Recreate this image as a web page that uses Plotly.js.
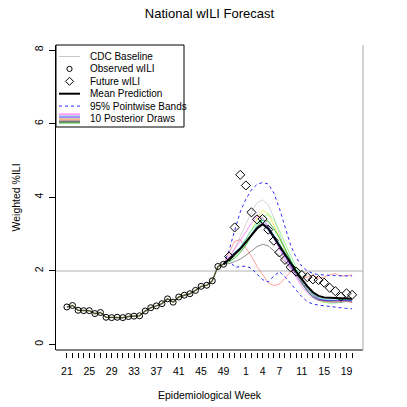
<!DOCTYPE html>
<html>
<head>
<meta charset="utf-8">
<script src="https://cdn.plot.ly/plotly-3.0.1.min.js"></script>
<style>
  html, body { margin: 0; padding: 0; background: #fff; }
  #chart { width: 407px; height: 407px; }
</style>
</head>
<body>
<div id="chart"></div>
<script>
// Epidemiological weeks shown on the x axis (season wraps at week 52).
const weekLabels = [
  21, 22, 23, 24, 25, 26, 27, 28, 29, 30, 31, 32, 33, 34, 35, 36,
  37, 38, 39, 40, 41, 42, 43, 44, 45, 46, 47, 48, 49, 50, 51, 52,
  1, 2, 3, 4, 5, 6, 7, 8, 9, 10, 11, 12, 13, 14, 15, 16, 17, 18, 19, 20,
];
const labelledWeeks = [21, 25, 29, 33, 37, 41, 45, 49, 1, 4, 7, 11, 15, 19];

const cdcBaseline = 2.0;

// Observed wILI, weeks 21..49
const observedWILI = [
  1.02, 1.06, 0.93, 0.92, 0.92, 0.84, 0.87, 0.74, 0.73, 0.74, 0.73, 0.76,
  0.77, 0.78, 0.91, 1.0, 1.05, 1.11, 1.24, 1.15, 1.29, 1.34, 1.38, 1.47,
  1.58, 1.61, 1.73, 2.12, 2.18,
];
// Future wILI, weeks 50..20
const futureWILI = [
  2.39, 3.18, 4.61, 4.32, 3.59, 3.40, 3.41, 3.12, 2.82, 2.50, 2.30, 2.10,
  1.98, 1.89, 1.83, 1.77, 1.75, 1.68, 1.54, 1.45, 1.30, 1.39, 1.35,
];

// Forecast series start at the last observed week.
const meanPrediction = [
  2.18, 2.32, 2.45, 2.60, 2.78, 2.97, 3.15, 3.27, 3.15, 2.92, 2.68, 2.45,
  2.20, 1.98, 1.78, 1.58, 1.42, 1.32, 1.28, 1.27, 1.27, 1.27, 1.26, 1.24,
];
const upperBand = [
  2.18, 2.55, 3.10, 3.60, 3.95, 4.20, 4.35, 4.40, 4.36, 4.12, 3.70, 3.18,
  2.70, 2.36, 2.13, 2.00, 1.93, 1.90, 1.88, 1.88, 1.87, 1.87, 1.86, 1.86,
];
const lowerBand = [
  2.18, 2.30, 2.10, 2.12, 2.13, 2.07, 1.90, 1.76, 1.70, 1.86, 1.98, 1.84,
  1.66, 1.48, 1.30, 1.16, 1.10, 1.07, 1.05, 1.03, 1.00, 0.99, 0.98, 0.97,
];

const drawRed = [2.18, 2.5, 2.8, 2.85, 2.62, 2.4, 2.12, 1.9, 1.68, 1.6, 1.64, 1.8, 1.98, 1.95, 1.83, 1.83, 1.89, 1.8, 1.83, 1.89, 1.93, 1.86, 1.87, 1.89];
const drawDarkGray = [2.18, 2.2, 2.25, 2.32, 2.42, 2.53, 2.66, 2.72, 2.68, 2.55, 2.4, 2.27, 2.12, 1.95, 1.75, 1.55, 1.38, 1.25, 1.18, 1.16, 1.15, 1.15, 1.17, 1.15];
const drawLightGray = [2.18, 2.3, 2.6, 2.95, 3.3, 3.6, 3.85, 3.93, 3.8, 3.45, 3.0, 2.6, 2.25, 1.95, 1.7, 1.5, 1.35, 1.25, 1.2, 1.2, 1.2, 1.2, 1.2, 1.2];
const drawYellow = [2.18, 2.3, 2.45, 2.62, 2.85, 3.1, 3.4, 3.65, 3.55, 3.25, 2.9, 2.55, 2.2, 1.9, 1.65, 1.45, 1.3, 1.2, 1.15, 1.15, 1.17, 1.18, 1.16, 1.15];
const drawLightGreen = [2.18, 2.28, 2.4, 2.55, 2.75, 3.0, 3.25, 3.45, 3.55, 3.4, 3.1, 2.75, 2.4, 2.1, 1.8, 1.55, 1.35, 1.22, 1.15, 1.12, 1.12, 1.15, 1.18, 1.2];
const drawGreen = [2.18, 2.25, 2.35, 2.5, 2.7, 2.95, 3.2, 3.38, 3.35, 3.15, 2.9, 2.6, 2.3, 2.0, 1.7, 1.45, 1.28, 1.2, 1.18, 1.18, 1.2, 1.22, 1.2, 1.2];
const drawCyan = [2.18, 2.32, 2.48, 2.65, 2.88, 3.1, 3.3, 3.38, 3.22, 2.98, 2.72, 2.48, 2.25, 2.02, 1.78, 1.55, 1.38, 1.28, 1.22, 1.2, 1.2, 1.2, 1.22, 1.2];
const drawBlue = [2.18, 2.35, 2.5, 2.62, 2.8, 3.0, 3.18, 3.25, 3.1, 2.88, 2.62, 2.38, 2.12, 1.88, 1.65, 1.45, 1.3, 1.22, 1.2, 1.2, 1.22, 1.22, 1.2, 1.18];
const drawMagenta = [2.18, 2.38, 2.6, 2.82, 3.05, 3.3, 3.48, 3.45, 3.2, 2.9, 2.6, 2.3, 2.05, 1.8, 1.58, 1.4, 1.27, 1.2, 1.17, 1.15, 1.15, 1.17, 1.18, 1.15];
const drawPurple = [2.18, 2.3, 2.42, 2.58, 2.78, 3.0, 3.2, 3.3, 3.2, 2.95, 2.68, 2.42, 2.15, 1.92, 1.7, 1.5, 1.33, 1.24, 1.2, 1.18, 1.18, 1.2, 1.2, 1.18];

const posteriorDraws = [
  drawRed, drawDarkGray, drawLightGray, drawYellow, drawLightGreen,
  drawGreen, drawCyan, drawBlue, drawMagenta, drawPurple,
];
const drawColors = [
  "rgba(255,40,40,0.45)", "rgba(70,70,70,0.6)", "rgba(150,150,150,0.4)",
  "rgba(225,225,0,0.6)", "rgba(60,255,60,0.5)", "rgba(0,170,0,0.75)",
  "rgba(0,215,215,0.6)", "rgba(40,40,255,0.55)", "rgba(255,40,255,0.5)",
  "rgba(130,20,240,0.5)",
];

const legendLabels = [
  "CDC Baseline", "Observed wILI", "Future wILI",
  "Mean Prediction", "95% Pointwise Bands", "10 Posterior Draws",
];

// Geometry of the plotting region in page pixels.
const W = 407, H = 407;
const M = { l: 56, r: 44, t: 45, b: 55 };
const plotW = W - M.l - M.r;
const plotH = H - M.t - M.b;
const px = (x) => (x - M.l) / plotW;
const py = (y) => (H - M.b - y) / plotH;

const FONT = "Liberation Sans, Arial, Helvetica, sans-serif";

const weekIndex = weekLabels.map((_, i) => i);
const forecastStart = observedWILI.length - 1;
const forecastX = weekIndex.slice(forecastStart, forecastStart + meanPrediction.length);
const futureX = weekIndex.slice(observedWILI.length, observedWILI.length + futureWILI.length);
const observedX = weekIndex.slice(0, observedWILI.length);

const traces = [];

posteriorDraws.forEach((draw, i) => {
  traces.push({
    x: forecastX, y: draw, mode: "lines", type: "scatter",
    line: { color: drawColors[i], width: 1 }, hoverinfo: "skip",
  });
});

for (const band of [upperBand, lowerBand]) {
  traces.push({
    x: forecastX, y: band, mode: "lines", type: "scatter",
    line: { color: "#2b2bff", width: 1, dash: "3px,3px" },
  });
}

traces.push({
  x: forecastX, y: meanPrediction, mode: "lines", type: "scatter",
  line: { color: "#000", width: 2 },
});

// History: all draws overlap here, giving an olive line.
traces.push({
  x: observedX, y: observedWILI, mode: "lines+markers", type: "scatter",
  line: { color: "#4f5628", width: 1.5 },
  marker: { symbol: "circle-open", size: 6, color: "#000", line: { width: 1 } },
});

traces.push({
  x: futureX, y: futureWILI, mode: "markers", type: "scatter",
  marker: { symbol: "diamond-open", size: 7, color: "#000", line: { width: 1 } },
});

// Hand-drawn legend, R style.
const legBox = { x0: 56, x1: 184, y0: 45, y1: 127 };
const rowY = legendLabels.map((_, i) => 56.5 + 12.4 * i);
const symX0 = 59, symX1 = 80, symXc = 69.5;

const shapes = [
  // CDC baseline across the whole plot
  {
    type: "line", xref: "paper", yref: "y", x0: 0, x1: 1,
    y0: cdcBaseline, y1: cdcBaseline,
    line: { color: "#d8d8d8", width: 2 }, layer: "below",
  },
  // bottom and right of the frame
  {
    type: "line", xref: "paper", yref: "paper", x0: 0, x1: 1,
    y0: py(350), y1: py(350), line: { color: "#000", width: 1 },
  },
  {
    type: "line", xref: "paper", yref: "paper", x0: px(363), x1: px(363),
    y0: py(350), y1: 1, line: { color: "#a6a6a6", width: 1 },
  },
  // legend box
  {
    type: "rect", xref: "paper", yref: "paper",
    x0: px(legBox.x0), x1: px(legBox.x1), y0: py(legBox.y1), y1: py(legBox.y0),
    line: { color: "#000", width: 1 }, fillcolor: "#fff",
  },
  {
    type: "line", xref: "paper", yref: "paper", x0: px(symX0), x1: px(symX1),
    y0: py(rowY[0]), y1: py(rowY[0]), line: { color: "#c8c8c8", width: 1 },
  },
  {
    type: "circle", xref: "paper", yref: "paper",
    x0: px(symXc - 2.6), x1: px(symXc + 2.6),
    y0: py(rowY[1] + 2.6), y1: py(rowY[1] - 2.6),
    line: { color: "#000", width: 1 },
  },
  {
    type: "path", xref: "paper", yref: "paper",
    path: `M ${px(symXc)} ${py(rowY[2] - 4)} L ${px(symXc + 4)} ${py(rowY[2])} L ${px(symXc)} ${py(rowY[2] + 4)} L ${px(symXc - 4)} ${py(rowY[2])} Z`,
    line: { color: "#000", width: 1 },
  },
  {
    type: "line", xref: "paper", yref: "paper", x0: px(symX0), x1: px(symX1),
    y0: py(rowY[3]), y1: py(rowY[3]), line: { color: "#000", width: 2 },
  },
  {
    type: "line", xref: "paper", yref: "paper", x0: px(symX0), x1: px(symX1),
    y0: py(rowY[4]), y1: py(rowY[4]),
    line: { color: "#2b2bff", width: 1, dash: "3px,3px" },
  },
];

// stacked colour swatch for the posterior draws
const swatchColors = [
  "#ff66ff", "#ff99dd", "#88ccff", "#6666ff", "#aa55ff",
  "#eeee55", "#ff7777", "#888888", "#222222", "#33bb33",
];
swatchColors.forEach((c, i) => {
  const y = rowY[5] - 4.5 + i;
  shapes.push({
    type: "line", xref: "paper", yref: "paper", x0: px(symX0), x1: px(symX1),
    y0: py(y), y1: py(y), line: { color: c, width: 1 },
  });
});

const annotations = legendLabels.map((label, i) => ({
  text: label, xref: "paper", yref: "paper",
  x: px(88), y: py(rowY[i]), xanchor: "left", yanchor: "middle",
  showarrow: false, font: { family: FONT, size: 10, color: "#000" },
}));

annotations.push({
  text: "Epidemiological Week", xref: "paper", yref: "paper",
  x: 0.5, y: py(395), xanchor: "center", yanchor: "middle",
  showarrow: false, font: { family: FONT, size: 10.5, color: "#000" },
});
annotations.push({
  text: "Weighted %ILI", xref: "paper", yref: "paper", textangle: -90,
  x: px(15), y: py(197.5), xanchor: "center", yanchor: "middle",
  showarrow: false, font: { family: FONT, size: 10.5, color: "#000" },
});

const layout = {
  width: W, height: H,
  margin: M,
  paper_bgcolor: "#fff",
  plot_bgcolor: "#fff",
  showlegend: false,
  title: {
    text: "National wILI Forecast",
    xref: "paper", x: 0.5, xanchor: "center",
    yref: "container", y: 1 - 13 / H, yanchor: "middle",
    font: { family: FONT, size: 13, color: "#000" },
  },
  xaxis: {
    range: [-1.95, 52.95],
    anchor: "free", position: 0,
    tickvals: weekIndex,
    ticktext: weekLabels.map((w) => (labelledWeeks.includes(w) ? String(w) : "")),
    tickangle: 0,
    ticks: "outside", ticklen: 5, tickwidth: 1, tickcolor: "#000",
    ticklabelstandoff: 4,
    showline: false, showgrid: false, zeroline: false,
    tickfont: { family: FONT, size: 10.5, color: "#000" },
  },
  yaxis: {
    domain: [2 / plotH, 1],
    range: [-0.149, 8.136],
    tickvals: [0, 2, 4, 6, 8],
    tickangle: -90,
    ticks: "outside", ticklen: 6, tickwidth: 1, tickcolor: "#000",
    ticklabelstandoff: 2,
    showline: true, linecolor: "#000", linewidth: 1,
    showgrid: false, zeroline: false,
    tickfont: { family: FONT, size: 10.5, color: "#000" },
  },
  shapes,
  annotations,
};

Plotly.newPlot("chart", traces, layout, { staticPlot: true, displayModeBar: false });
</script>
</body>
</html>
